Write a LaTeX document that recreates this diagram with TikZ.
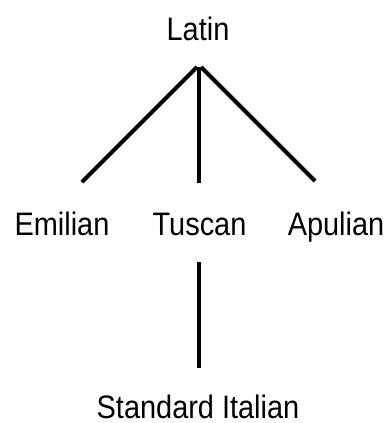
\documentclass[tikz,border=0pt]{standalone}
\usepackage{fontspec}
\setmainfont[FakeStretch=0.89]{Liberation Sans}
\begin{document}
\begin{tikzpicture}[x=1pt,y=-1pt,
  label/.style={inner sep=0pt, anchor=base, font=\fontsize{32.5}{36}\selectfont},
  branch/.style={line width=4pt}]
\useasboundingbox (0,0) rectangle (390,423);
% language names
\node[label] (latin)    at (198,40)  {Latin};
\node[label] (emilian)  at (62,235)  {Emilian};
\node[label] (tuscan)   at (199.5,235) {Tuscan};
\node[label] (apulian)  at (336,235) {Apulian};
\node[label] (standard) at (198,418) {Standard Italian};
% branch end points
\coordinate (apex)  at (199,67);
\coordinate (apexL) at (197,67);
\coordinate (apexR) at (201,67);
\coordinate (endE)  at (82,182);
\coordinate (endT)  at (199,183);
\coordinate (endA)  at (315,181);
\coordinate (tusB)  at (199,262);
\coordinate (stdT)  at (199,368);
% tree branches
\draw[branch] (apexL) -- (endE);
\draw[branch] (apex)  -- (endT);
\draw[branch] (apexR) -- (endA);
\draw[branch] (tusB)  -- (stdT);
\end{tikzpicture}
\end{document}
